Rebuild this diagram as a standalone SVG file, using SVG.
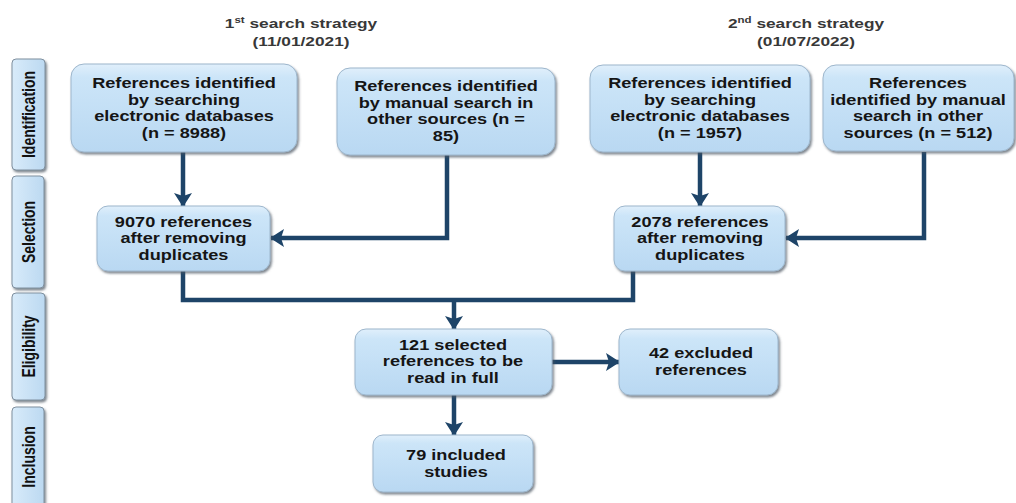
<svg xmlns="http://www.w3.org/2000/svg" width="1016" height="503" viewBox="0 0 1016 503">
<defs>
<linearGradient id="gbox" x1="0" y1="0" x2="0" y2="1">
<stop offset="0" stop-color="#e0effb"/>
<stop offset="0.15" stop-color="#cce5f8"/>
<stop offset="1" stop-color="#b9d8f2"/>
</linearGradient>
<linearGradient id="gtab" x1="0" y1="0" x2="1" y2="0">
<stop offset="0" stop-color="#d8ebfa"/>
<stop offset="1" stop-color="#bcd9f1"/>
</linearGradient>
<filter id="sh" x="-10%" y="-10%" width="125%" height="130%">
<feDropShadow dx="1.5" dy="2" stdDeviation="1.2" flood-color="#4a5560" flood-opacity="0.7"/>
</filter>
<marker id="ah" viewBox="0 0 14 18" refX="13" refY="9" markerWidth="14" markerHeight="18" orient="auto" markerUnits="userSpaceOnUse">
<path d="M0,0 L14,9 L0,18 L3,9 Z" fill="#1e4468"/>
</marker>
</defs>
<style>
.box{fill:url(#gbox);stroke:#9db6cc;stroke-width:1;filter:url(#sh);}
.tab{fill:url(#gtab);stroke:#7f8f9e;stroke-width:1;filter:url(#sh);}
.t{font-family:"Liberation Sans",Arial,sans-serif;font-weight:bold;font-size:14.2px;fill:#151515;text-anchor:middle;}
.h{font-family:"Liberation Sans",Arial,sans-serif;font-weight:bold;font-size:13.5px;fill:#383838;text-anchor:middle;}
.v{font-family:"Liberation Sans",Arial,sans-serif;font-weight:bold;font-size:14px;fill:#111;text-anchor:middle;}
.c{fill:none;stroke:#1e4468;stroke-width:4.5;}
</style>

<g id="headers">
<text class="h" transform="translate(301,28) scale(1.28,1)">1<tspan font-size="9" dy="-5">st</tspan><tspan dy="5"> search strategy</tspan></text>
<text class="h" transform="translate(301,46) scale(1.28,1)">(11/01/2021)</text>
<text class="h" transform="translate(806,28) scale(1.28,1)">2<tspan font-size="9" dy="-5">nd</tspan><tspan dy="5"> search strategy</tspan></text>
<text class="h" transform="translate(806,46) scale(1.28,1)">(01/07/2022)</text>
</g>

<g id="tab-identification">
<rect class="tab" x="12" y="59" width="33" height="111" rx="4"/>
<text class="v" transform="translate(35,114.5) scale(1.27,1) rotate(-90)">Identification</text>
</g>
<g id="tab-selection">
<rect class="tab" x="12" y="176" width="32" height="112" rx="4"/>
<text class="v" transform="translate(35,232) scale(1.27,1) rotate(-90)">Selection</text>
</g>
<g id="tab-eligibility">
<rect class="tab" x="12" y="293" width="33" height="107" rx="4"/>
<text class="v" transform="translate(35,346.5) scale(1.27,1) rotate(-90)">Eligibility</text>
</g>
<g id="tab-inclusion">
<rect class="tab" x="12" y="407" width="32" height="106" rx="4"/>
<text class="v" transform="translate(35,457) scale(1.27,1) rotate(-90)">Inclusion</text>
</g>

<g id="connectors">
<path class="c" d="M183,152 V206" marker-end="url(#ah)"/>
<path class="c" d="M447,155 V238 H271" marker-end="url(#ah)"/>
<path class="c" d="M700,152 V206" marker-end="url(#ah)"/>
<path class="c" d="M924,152 V238 H786" marker-end="url(#ah)"/>
<path class="c" d="M183,271 V300 H633 V271"/>
<path class="c" d="M454,300 V329" marker-end="url(#ah)"/>
<path class="c" d="M552,362 H619" marker-end="url(#ah)"/>
<path class="c" d="M454,395 V435" marker-end="url(#ah)"/>
</g>

<g id="n-db1">
<rect class="box" x="71" y="64" width="226" height="88" rx="13"/>
<text class="t" transform="translate(184,88) scale(1.28,1)"><tspan x="0">References identified</tspan><tspan x="0" dy="16.7">by searching</tspan><tspan x="0" dy="16.7">electronic databases</tspan><tspan x="0" dy="16.7">(n = 8988)</tspan></text>
</g>
<g id="n-man1">
<rect class="box" x="337" y="68" width="218" height="87" rx="13"/>
<text class="t" transform="translate(446,91) scale(1.28,1)"><tspan x="0">References identified</tspan><tspan x="0" dy="16.7">by manual search in</tspan><tspan x="0" dy="16.7">other sources (n =</tspan><tspan x="0" dy="16.7">85)</tspan></text>
</g>
<g id="n-db2">
<rect class="box" x="590" y="65" width="220" height="87" rx="13"/>
<text class="t" transform="translate(700,88) scale(1.28,1)"><tspan x="0">References identified</tspan><tspan x="0" dy="16.7">by searching</tspan><tspan x="0" dy="16.7">electronic databases</tspan><tspan x="0" dy="16.7">(n = 1957)</tspan></text>
</g>
<g id="n-man2">
<rect class="box" x="823" y="65" width="191" height="86" rx="13"/>
<text class="t" transform="translate(918,88) scale(1.28,1)"><tspan x="0">References</tspan><tspan x="0" dy="16.7">identified by manual</tspan><tspan x="0" dy="16.7">search in other</tspan><tspan x="0" dy="16.7">sources (n = 512)</tspan></text>
</g>
<g id="n-dup1">
<rect class="box" x="97" y="206" width="173" height="65" rx="11"/>
<text class="t" transform="translate(183.5,227) scale(1.28,1)"><tspan x="0">9070 references</tspan><tspan x="0" dy="16.5">after removing</tspan><tspan x="0" dy="16.5">duplicates</tspan></text>
</g>
<g id="n-dup2">
<rect class="box" x="614" y="206" width="171" height="65" rx="11"/>
<text class="t" transform="translate(700,227) scale(1.28,1)"><tspan x="0">2078 references</tspan><tspan x="0" dy="16.5">after removing</tspan><tspan x="0" dy="16.5">duplicates</tspan></text>
</g>
<g id="n-full">
<rect class="box" x="355" y="329" width="197" height="66" rx="11"/>
<text class="t" transform="translate(453,350) scale(1.28,1)"><tspan x="0">121 selected</tspan><tspan x="0" dy="16.5">references to be</tspan><tspan x="0" dy="16.5">read in full</tspan></text>
</g>
<g id="n-excl">
<rect class="box" x="619" y="329" width="159" height="66" rx="11"/>
<text class="t" transform="translate(701,358) scale(1.28,1)"><tspan x="0">42 excluded</tspan><tspan x="0" dy="17">references</tspan></text>
</g>
<g id="n-incl">
<rect class="box" x="373" y="435" width="160" height="57" rx="10"/>
<text class="t" transform="translate(456,460) scale(1.28,1)"><tspan x="0">79 included</tspan><tspan x="0" dy="17">studies</tspan></text>
</g>
</svg>
